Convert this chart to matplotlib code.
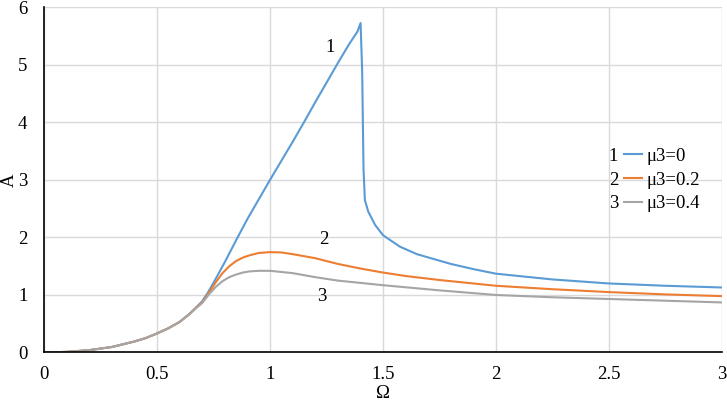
import numpy as np
import matplotlib
matplotlib.use("Agg")
import matplotlib.pyplot as plt
from matplotlib.ticker import StrMethodFormatter, MultipleLocator

plt.rcParams["font.family"] = ["Liberation Serif", "DejaVu Serif"]
plt.rcParams["font.size"] = 13.5

# curve 1, mu3 = 0
om1 = [0, 0.1, 0.2, 0.3, 0.4, 0.45, 0.5, 0.55, 0.6, 0.644, 0.67, 0.7, 0.725, 0.75, 0.8, 0.85, 0.9, 0.95,
       1.0, 1.05, 1.1, 1.15, 1.2, 1.25, 1.3, 1.35, 1.387, 1.401, 1.408, 1.414,
       1.42, 1.435, 1.465, 1.5, 1.575, 1.65, 1.8, 1.9, 2.0, 2.25, 2.5, 2.75, 3.0]
a1 = [0, 0.01, 0.04, 0.095, 0.19, 0.25, 0.33, 0.42, 0.53, 0.67, 0.77, 0.89, 1.04, 1.21, 1.57, 1.95, 2.32, 2.66,
      3.00, 3.33, 3.66, 4.00, 4.35, 4.69, 5.03, 5.36, 5.58, 5.73, 4.9, 3.2,
      2.65, 2.45, 2.22, 2.04, 1.84, 1.71, 1.54, 1.45, 1.37, 1.27, 1.20, 1.16, 1.13]

# curve 2, mu3 = 0.2
om2 = [0, 0.1, 0.2, 0.3, 0.4, 0.45, 0.5, 0.55, 0.6, 0.644, 0.67, 0.7, 0.73, 0.76, 0.79, 0.82, 0.85, 0.88,
       0.91, 0.95, 1.0, 1.05, 1.1, 1.2, 1.3, 1.4, 1.5, 1.6, 1.75, 2.0, 2.25, 2.5, 2.75, 3.0]
a2 = [0, 0.01, 0.04, 0.095, 0.19, 0.25, 0.33, 0.42, 0.53, 0.67, 0.77, 0.87, 1.04, 1.22, 1.38, 1.50, 1.59, 1.65,
      1.69, 1.73, 1.745, 1.74, 1.71, 1.64, 1.54, 1.46, 1.39, 1.33, 1.26, 1.16, 1.10, 1.05, 1.01, 0.98]

# curve 3, mu3 = 0.4
om3 = [0, 0.1, 0.2, 0.3, 0.4, 0.45, 0.5, 0.55, 0.6, 0.644, 0.67, 0.7, 0.73, 0.76, 0.79, 0.82, 0.85, 0.88,
       0.91, 0.95, 1.0, 1.05, 1.1, 1.2, 1.3, 1.4, 1.5, 1.75, 2.0, 2.25, 2.5, 2.75, 3.0]
a3 = [0, 0.01, 0.04, 0.095, 0.19, 0.25, 0.33, 0.42, 0.53, 0.67, 0.76, 0.86, 1.01, 1.14, 1.24, 1.31, 1.355, 1.39,
      1.41, 1.42, 1.42, 1.40, 1.38, 1.31, 1.25, 1.21, 1.17, 1.08, 1.00, 0.96, 0.93, 0.90, 0.87]

labels = ["μ3=0", "μ3=0.2", "μ3=0.4"]
numbers = ["1", "2", "3"]
colors = ["#5B9BD5", "#ED7D31", "#A5A5A5"]

fig = plt.figure(figsize=(7.27, 4.07), dpi=100)
ax = fig.add_axes([0.0605, 0.134, 0.9325, 0.8476])

for om, a, c, lab in zip([om1, om2, om3], [a1, a2, a3], colors, labels):
    ax.plot(om, a, color=c, lw=1.5, label=lab, solid_joinstyle="round")

ax.set_xlim(0, 3)
ax.set_ylim(0, 6)
ax.xaxis.set_major_locator(MultipleLocator(0.5))
ax.yaxis.set_major_locator(MultipleLocator(1))
ax.xaxis.set_major_formatter(StrMethodFormatter("{x:g}"))
ax.yaxis.set_major_formatter(StrMethodFormatter("{x:g}"))
ax.tick_params(length=0)
ax.tick_params(axis="x", pad=10)
ax.tick_params(axis="y", pad=12)
ax.grid(color="#d9d9d9", lw=1)
ax.set_axisbelow(True)
for s in ["top", "right"]:
    ax.spines[s].set_visible(False)
for s in ["left", "bottom"]:
    ax.spines[s].set_color("black")
    ax.spines[s].set_linewidth(1.2)

ax.set_xlabel("Ω", labelpad=1)
ax.set_ylabel("A", labelpad=0)

# curve numbers
ax.text(1.265, 5.3, "1", ha="center", va="center")
ax.text(1.24, 1.96, "2", ha="center", va="center")
ax.text(1.23, 0.97, "3", ha="center", va="center")

leg = ax.legend(loc="center left", bbox_to_anchor=(0.855, 0.5), frameon=False,
                handlelength=1.0, handletextpad=0.2, labelspacing=0.35,
                borderaxespad=0, borderpad=0)
# numbers in front of legend entries
fig.canvas.draw()
inv = ax.transAxes.inverted()
for t, n in zip(leg.get_texts(), numbers):
    bb = t.get_window_extent()
    yc = inv.transform((0, (bb.y0 + bb.y1) / 2))[1]
    ax.text(0.840, yc, n, transform=ax.transAxes, ha="center", va="center")

fig.savefig("out.png", dpi=100)
